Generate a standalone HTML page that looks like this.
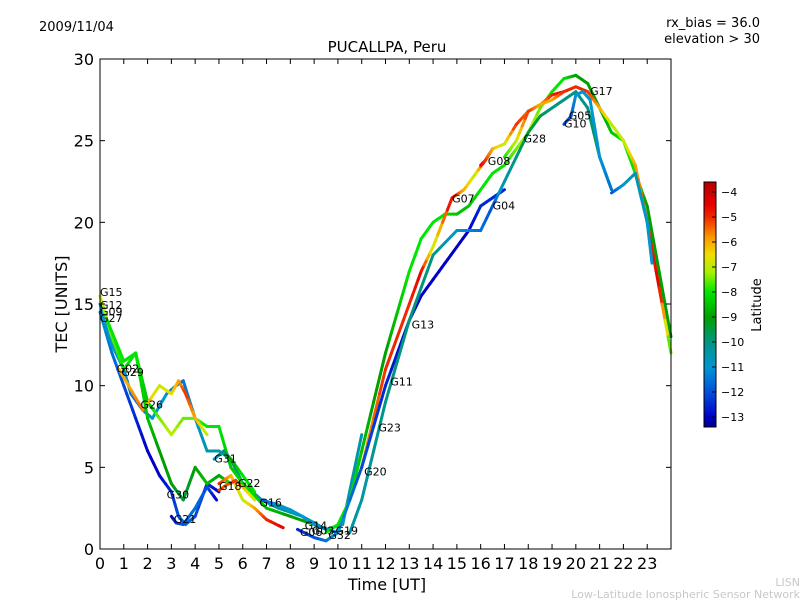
<!DOCTYPE html>
<html><head><meta charset="utf-8"><style>
body{margin:0;background:#fff;}
svg text{font-family:"DejaVu Sans","Liberation Sans",sans-serif;}
</style></head><body>
<svg id="chart" width="800" height="600" xmlns="http://www.w3.org/2000/svg">
<text x="39" y="31" font-size="13">2009/11/04</text>
<text x="760" y="27" font-size="13" text-anchor="end">rx_bias = 36.0</text>
<text x="760" y="43" font-size="13" text-anchor="end">elevation &gt; 30</text>
<text x="387" y="52" font-size="15" text-anchor="middle">PUCALLPA, Peru</text>
<g id="plot"></g>
<rect x="100" y="59" width="571" height="490" fill="none" stroke="#000" stroke-width="1"/>
<g id="axes"></g>
<text x="387" y="590" font-size="16" text-anchor="middle">Time [UT]</text>
<text transform="translate(67,304) rotate(-90)" font-size="16" text-anchor="middle">TEC [UNITS]</text>
<defs><linearGradient id="jet" x1="0" y1="0" x2="0" y2="1"></linearGradient></defs>
<g id="cbar"></g>
<text transform="translate(761,305) rotate(-90)" font-size="13" text-anchor="middle">Latitude</text>
<text x="800" y="586" font-size="11" fill="#c8c8c8" text-anchor="end">LISN</text>
<text x="800" y="598" font-size="11" fill="#c8c8c8" text-anchor="end">Low-Latitude Ionospheric Sensor Network</text>
</svg>
<script>
const xTicks=[0,1,2,3,4,5,6,7,8,9,10,11,12,13,14,15,16,17,18,19,20,21,22,23];
const yTicks=[0,5,10,15,20,25,30];
const cbTicks=[-4,-5,-6,-7,-8,-9,-10,-11,-12,-13];
const arcNames=["G27","G12","G15","G02","G29","G22","G16","G20","G07","G08","G13","G04","G17","G10","G05","G31","G18","G21"];
const arcTimes=[
[0,0.5,1,1.5,2,2.5,3,3.3,3.6,4,4.5,5],
[0,0.5,1,1.3,1.8,2.2,2.8,3.2,3.5,4,4.5,5,5.5,6,6.8,7.5,8.5,9.5,10.2,11],
[0,0.5,1,1.5,2,2.5,3,3.5,4,4.5,5,5.5,6,7,8,9,9.5],
[0.8,1.2,1.8,2.5,3,3.3,3.6,4,4.5],
[0.3,1,1.5,2,2.5,3,3.5,4,4.5,5,5.5],
[5,5.5,6,6.5,7,7.7],
[6.8,7.5,8,8.5,9,9.5,10],
[9.5,10,10.5,11,11.5,12,12.5,13,13.5,14,14.5,15,15.5,16,16.5,17,17.5,18,18.5,19,19.5,20,20.5,21,21.5,22,22.5,23,23.5,24],
[10,11,12,13,13.5,14,14.8,15.3,15.8,16.2,16.5],
[16,16.2,16.5,17,17.5,18,18.5,19,19.5],
[8.3,9,9.5,10,11,12,13,13.5,14,14.5,15,15.5,16,16.5,17],
[10.5,11,12,13,14,15,16,16.5,17,17.5,18,18.5,19,19.5,20,20.5,21,21.5],
[17,17.5,18,18.5,19,19.5,20,20.5,21,21.5,22,22.5,23,23.5,24],
[19.5,19.8,20,20.3,20.6,21,21.5],
[21.5,22,22.5,23,23.2],
[4.8,5.2,5.5,6,6.5],
[5,5.3,5.7,6,6.5],
[3,3.2,3.5,4,4.5,4.9]];
const arcTec=[
[14.5,12,10,8,6,4.5,3.5,2,1.5,2,4,3.5],
[15,12.5,11,9.5,8.5,8,9.5,10,10.3,8,6,6,5.5,4,3,2.5,2,1.2,1.5,7],
[15.5,13,11,12,9,8,7,8,8,7.5,7.5,5,4,2.5,2,1.5,1.2],
[11,10,8.5,10,9.5,10.3,9.5,8,7],
[14,11.5,12,8,6,4,3,5,4,4.5,4],
[4,4.5,3,2.5,1.8,1.3],
[3,2.7,2.4,2,1.5,1.2,1],
[1,1.5,3,6,9,12,14.5,17,19,20,20.5,20.5,21,22,23,23.5,24.5,25.5,27,28,28.8,29,28.5,27,25.5,25,23,21,17,13],
[1,5,11,15,17,18.5,21.5,22,23,23.8,24.5],
[23.5,23.8,24.5,24.8,26,26.8,27.2,27.8,28],
[1.2,0.7,0.5,1,5,10,14,15.5,16.5,17.5,18.5,19.5,21,21.5,22],
[1,3,9,14,18,19.5,19.5,21,22.5,24,25.5,26.5,27,27.5,28,27,24,22],
[24,25,26.8,27.2,27.5,28,28.3,28,27,26,25,23.5,20,16,12],
[26,26.5,27.8,28,27.5,24,22],
[21.8,22.3,23,20,17.5],
[5.5,6,5.5,4.5,3.5],
[3.6,3.9,4.2,3.8,3],
[2,1.6,1.5,2.5,3.8,3]];
const arcLat=[
[-11,-11.5,-12,-12.5,-13,-13,-12.5,-12,-11.5,-12,-12.5,-13],
[-11,-11,-11,-11.5,-11.5,-11,-11,-11.5,-11.5,-11,-10.5,-10.5,-10,-10,-10.5,-10.5,-10.5,-10.5,-10.5,-10.5],
[-7,-7.5,-8,-8,-8.5,-7.5,-7,-7.5,-7.5,-8,-8,-8.5,-8,-8.5,-9,-9,-9],
[-6,-6,-5.5,-7,-6.5,-6,-5,-6,-7],
[-8,-8,-8,-8.5,-9,-9,-9.5,-9,-8.5,-9,-8],
[-5,-6,-7,-6,-5,-4.5],
[-12,-11,-11,-11,-11,-11,-12],
[-8,-8,-8,-8.5,-9,-9,-8.5,-8,-8,-8,-8,-8.5,-8.5,-8,-8,-8,-7.5,-7,-7.5,-8,-8,-9,-9,-9,-8.5,-8,-8,-9,-9,-9],
[-7,-6,-5,-5,-4.5,-7,-4.5,-6,-7,-4.5,-4],
[-4.5,-5,-6,-7,-5,-5.5,-6,-5,-4.5],
[-12.5,-12,-11.5,-11,-12,-12.5,-13,-13,-13,-13,-13,-13,-12.5,-12.5,-12.5],
[-10.5,-10.5,-10,-10,-10,-11,-11.5,-12,-10.5,-10,-9.5,-9.5,-10,-10,-10,-10,-9.5,-9.5],
[-8,-7,-5,-6,-6,-5,-5,-5,-6,-7,-7,-6,-5,-4.5,-8],
[-12,-12,-11,-11,-11,-11,-11.5],
[-12,-11,-10.5,-11,-11],
[-11,-10,-9,-8,-8],
[-5,-5.5,-5,-6,-7],
[-13,-12.5,-12,-11.5,-12,-13]];
const labelNames=["G15","G12","G09","G27","G02","G29","G26","G30","G21","G31","G18","G22","G16","G14","G06","G03","G32","G19","G20","G23","G11","G13","G07","G08","G04","G28","G10","G05","G17"];
const labelTimes=[0,0,0,0,0.7,0.9,1.7,2.8,3.1,4.8,5,5.8,6.7,8.6,8.4,8.9,9.6,9.9,11.1,11.7,12.2,13.1,14.8,16.3,16.5,17.8,19.5,19.7,20.6];
const labelTec=[15.5,14.7,14.3,13.9,10.8,10.6,8.6,3.1,1.6,5.3,3.6,3.8,2.6,1.2,0.8,0.9,0.6,0.9,4.5,7.2,10,13.5,21.2,23.5,20.8,24.9,25.8,26.3,27.8];
const NS="http://www.w3.org/2000/svg";
const X0=100,X1=671,Y0=549,Y1=59;
function xs(t){return X0+t*(X1-X0)/24;}
function ys(v){return Y0-v*(Y0-Y1)/30;}
const cmLat=[-3.6,-4.5,-5,-5.8,-6.5,-7.2,-8,-9,-10,-11,-12,-13,-13.4];
const cmRGB=[[180,0,0],[230,0,0],[240,40,0],[250,150,0],[240,220,0],[170,240,0],[0,230,0],[0,160,0],[0,150,130],[0,150,210],[0,80,220],[0,0,200],[0,0,140]];
function jet(lat){
 lat=Math.max(-13.4,Math.min(-3.6,lat));
 for(let i=0;i<cmLat.length-1;i++){
  if(lat<=cmLat[i]&&lat>=cmLat[i+1]){
   const f=(cmLat[i]-lat)/(cmLat[i]-cmLat[i+1]);
   const c=cmRGB[i].map((v,k)=>Math.round(v+(cmRGB[i+1][k]-v)*f));
   return `rgb(${c[0]},${c[1]},${c[2]})`;
  }
 }
 return 'rgb(0,0,140)';
}
const grad=document.getElementById('jet');
cmLat.forEach((l,i)=>{const s=document.createElementNS(NS,'stop');s.setAttribute('offset',(-3.6-l)/9.8);s.setAttribute('stop-color',`rgb(${cmRGB[i].join(',')})`);grad.appendChild(s);});
const plot=document.getElementById('plot');
arcTimes.forEach((ts,i)=>{
 const g=document.createElementNS(NS,'g');
 
 
 for(let j=0;j<ts.length-1;j++){
  const n=4;
  for(let k=0;k<n;k++){
   const f0=k/n,f1=(k+1)/n;
   const t0=ts[j]+(ts[j+1]-ts[j])*f0,t1=ts[j]+(ts[j+1]-ts[j])*f1;
   const v0=arcTec[i][j]+(arcTec[i][j+1]-arcTec[i][j])*f0,v1=arcTec[i][j]+(arcTec[i][j+1]-arcTec[i][j])*f1;
   const la=arcLat[i][j]+(arcLat[i][j+1]-arcLat[i][j])*(f0+f1)/2;
   const l=document.createElementNS(NS,'line');
   
   
   l.setAttribute('x1',xs(t0));l.setAttribute('y1',ys(v0));l.setAttribute('x2',xs(t1));l.setAttribute('y2',ys(v1));
   l.setAttribute('stroke',jet(la));l.setAttribute('stroke-width','3');l.setAttribute('stroke-linecap','round');
   g.appendChild(l);
  }
 }
 plot.appendChild(g);
});
labelNames.forEach((n,i)=>{
 const t=document.createElementNS(NS,'text');
 
 
 t.setAttribute('x',xs(labelTimes[i]));t.setAttribute('y',ys(labelTec[i]));t.setAttribute('font-size','11');
 t.textContent=n;plot.appendChild(t);
});
const axes=document.getElementById('axes');
xTicks.forEach(v=>{
 const x=xs(v);
 [[Y0,Y0-5],[Y1,Y1+5]].forEach(p=>{const l=document.createElementNS(NS,'line');
 
 
 l.setAttribute('x1',x);l.setAttribute('x2',x);l.setAttribute('y1',p[0]);l.setAttribute('y2',p[1]);l.setAttribute('stroke','#000');axes.appendChild(l);});
 const t=document.createElementNS(NS,'text');
 
 
 t.setAttribute('x',x);t.setAttribute('y',569);t.setAttribute('font-size','16');t.setAttribute('text-anchor','middle');t.textContent=v;axes.appendChild(t);
});
yTicks.forEach(v=>{
 const y=ys(v);
 [[X0,X0+5],[X1,X1-5]].forEach(p=>{const l=document.createElementNS(NS,'line');
 
 
 l.setAttribute('x1',p[0]);l.setAttribute('x2',p[1]);l.setAttribute('y1',y);l.setAttribute('y2',y);l.setAttribute('stroke','#000');axes.appendChild(l);});
 const t=document.createElementNS(NS,'text');
 
 
 t.setAttribute('x',94);t.setAttribute('y',y+6);t.setAttribute('font-size','16');t.setAttribute('text-anchor','end');t.textContent=v;axes.appendChild(t);
});
const cb=document.getElementById('cbar');
const r=document.createElementNS(NS,'rect');


r.setAttribute('x',704);r.setAttribute('y',182);r.setAttribute('width',12);r.setAttribute('height',245);r.setAttribute('fill','url(#jet)');r.setAttribute('stroke','#000');cb.appendChild(r);
function cy(l){return 182+(-3.6-l)/9.8*245;}
cbTicks.forEach(v=>{
 const t=document.createElementNS(NS,'text');
 
 
 t.setAttribute('x',721);t.setAttribute('y',cy(v)+4);t.setAttribute('font-size','11');t.textContent='\u2212'+Math.abs(v);cb.appendChild(t);
 const l=document.createElementNS(NS,'line');
 
 
 l.setAttribute('x1',712);l.setAttribute('x2',716);l.setAttribute('y1',cy(v));l.setAttribute('y2',cy(v));l.setAttribute('stroke','#000');cb.appendChild(l);
});
</script>
</body></html>
